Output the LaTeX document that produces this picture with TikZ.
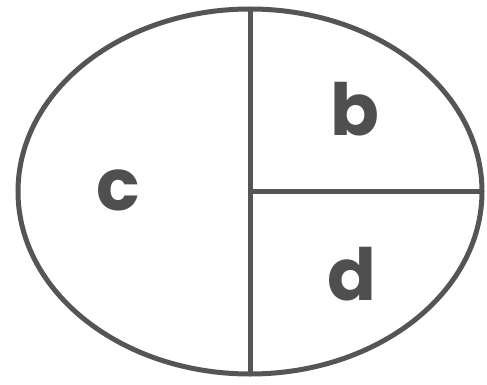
\documentclass[tikz,border=0pt]{standalone}
\usepackage{fontspec}
\setmainfont{Poppins}
\usepackage{xcolor}
\usepackage{tikz}
\usetikzlibrary{
  shapes.geometric,
  positioning
}
\definecolor{lineGray}{HTML}{555555}
\definecolor{txtGray}{HTML}{4F4F4F}

\begin{document}
\begin{tikzpicture}[
    x=0.5pt, y=-0.5pt,
    oval/.style={
      ellipse, minimum width=232pt, minimum height=182.5pt,
      draw=lineGray, line width=2.5pt, outer sep=0pt
    },
    part/.style={line width=2.5pt, draw=lineGray},
    lbl/.style={
      text=txtGray, inner sep=0pt,
      font=\fontsize{36}{40}\selectfont\bfseries
    },
    ]

    \useasboundingbox (0,0) rectangle (487,385);

    \node[oval] (whole) at (250,191.5) {};

    \draw[part] (whole.north) -- (whole.south);
    \draw[part] (whole.center) -- (whole.east);

    \node[lbl] (lc) at (118,190) {c};
    \node[lbl] (lb) at (355,109) {b};
    \node[lbl] (ld) at (352,274) {d};

  \end{tikzpicture}
\end{document}
